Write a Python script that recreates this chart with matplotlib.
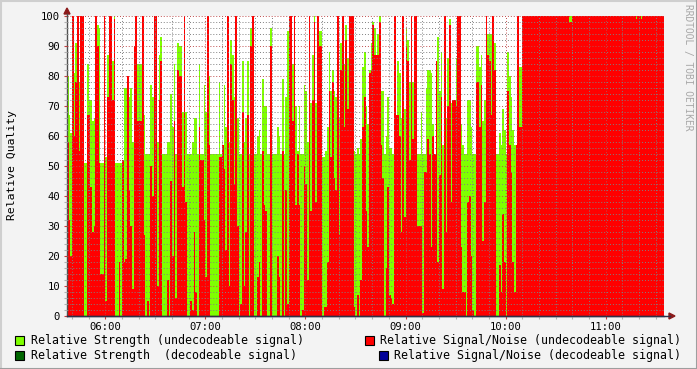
import numpy as np
import matplotlib
matplotlib.use("Agg")
import matplotlib.pyplot as plt
from matplotlib.patches import Polygon, Rectangle
from matplotlib.lines import Line2D

# 1-minute samples starting at 05:37, values in percent
start_min = 5 * 60 + 37

strength_05 = [80, 67, 61, 61, 81, 91, 78, 78, 55, 51, 51, 51, 84, 72, 72, 65, 66, 66, 97, 96, 51, 51, 51]
snr_05 = [58, 32, 20, 100, 60, 78, 100, 55, 100, 100, 0, 0, 67, 67, 43, 28, 30, 100, 90, 51, 14, 14, 100]

strength_06 = [53, 87, 87, 86, 85, 100, 51, 51, 51, 51,
               51, 76, 76, 68, 73, 76, 58, 90, 82, 84,
               84, 84, 65, 67, 54, 54, 54, 77, 73, 58,
               58, 58, 87, 93, 54, 54, 54, 58, 58, 74,
               63, 84, 54, 91, 90, 90, 68, 68, 68, 54,
               54, 54, 58, 66, 66, 54, 84, 54, 54, 77]
snr_06 = [5, 73, 100, 100, 72, 99, 0, 0, 18, 0,
          52, 18, 19, 80, 42, 30, 9, 90, 100, 65,
          65, 65, 100, 27, 0, 5, 0, 50, 40, 100,
          100, 10, 72, 85, 0, 0, 0, 12, 0, 45,
          20, 65, 6, 82, 80, 80, 43, 100, 38, 0,
          0, 5, 2, 28, 8, 0, 63, 52, 52, 32]

strength_07 = [68, 60, 80, 54, 54, 54, 54, 54, 78, 54,
               54, 77, 63, 58, 58, 92, 87, 73, 73, 66,
               54, 54, 85, 58, 66, 85, 54, 96, 78, 54,
               54, 60, 62, 54, 79, 70, 70, 54, 54, 96,
               54, 54, 54, 63, 60, 54, 79, 54, 73, 95,
               54, 78, 84, 85, 70, 55, 70, 54, 54, 77]
snr_07 = [13, 100, 57, 0, 0, 0, 0, 0, 53, 53,
          57, 49, 22, 100, 10, 84, 72, 44, 100, 30,
          0, 4, 68, 10, 28, 67, 0, 90, 100, 0,
          0, 13, 18, 0, 55, 37, 35, 0, 0, 90,
          0, 0, 0, 20, 13, 0, 55, 0, 42, 4,
          100, 100, 65, 100, 37, 54, 37, 0, 2, 50]

strength_08 = [75, 58, 58, 71, 87, 100, 71, 71, 95, 95,
               53, 53, 55, 63, 88, 75, 82, 75, 73, 73,
               66, 91, 91, 84, 97, 86, 86, 55, 55, 55,
               54, 56, 54, 59, 83, 88, 70, 64, 82, 91,
               98, 96, 87, 94, 100, 75, 75, 54, 60, 73,
               56, 56, 54, 54, 54, 85, 81, 66, 69, 69]
snr_08 = [44, 12, 100, 35, 72, 98, 38, 100, 90, 90,
          0, 3, 3, 18, 75, 53, 78, 46, 42, 100,
          27, 82, 100, 63, 92, 69, 100, 100, 100, 3,
          0, 7, 0, 12, 63, 73, 35, 23, 81, 82,
          97, 87, 87, 87, 98, 57, 46, 0, 16, 43,
          7, 6, 4, 100, 67, 67, 60, 28, 100, 33]

strength_09 = [96, 92, 78, 78, 78, 78, 78, 54, 54, 68,
               54, 54, 76, 82, 82, 81, 64, 54, 85, 93,
               75, 88, 57, 57, 66, 86, 99, 71, 71, 71,
               86, 97, 97, 64, 57, 54, 54, 72, 72, 63,
               54, 54, 90, 90, 83, 87, 65, 72, 72, 94,
               94, 94, 94, 91, 54, 54, 61, 57, 69, 62]
snr_09 = [90, 85, 52, 100, 59, 100, 100, 30, 30, 30,
          1, 48, 48, 59, 54, 23, 60, 54, 85, 18,
          47, 73, 9, 100, 28, 70, 97, 38, 72, 72,
          70, 100, 100, 23, 8, 8, 0, 38, 40, 20,
          2, 0, 78, 78, 63, 77, 25, 38, 100, 87,
          85, 67, 100, 82, 0, 0, 17, 8, 34, 18]

strength_10 = [54, 88, 80, 73, 62, 57, 56, 83, 83, 83,
               54, 54, 54, 54, 54, 54, 54, 54, 54, 54,
               54, 54, 54, 54, 54, 54, 54, 54, 54, 54,
               54, 54, 54, 54, 54, 54, 54, 54, 100, 100,
               54, 54, 54, 54, 54, 54, 54, 54, 54, 54,
               54, 54, 54, 54, 54, 54, 54, 54, 54, 54]
snr_10 = [0, 75, 57, 48, 18, 8, 57, 100, 63, 63,
          100, 100, 100, 100, 100, 100, 100, 100, 100, 100,
          100, 100, 100, 100, 100, 100, 100, 100, 100, 100,
          100, 100, 100, 100, 100, 100, 100, 100, 98, 98,
          100, 100, 100, 100, 100, 100, 100, 100, 100, 100,
          100, 100, 100, 100, 100, 100, 100, 100, 100, 100]

strength_11 = [54, 54, 54, 54, 54, 54, 54, 54, 54, 54,
               54, 54, 54, 54, 54, 54, 54, 54, 100, 54,
               54, 100, 54, 54, 54, 54, 54, 54, 54, 54,
               54, 54, 54, 54, 54]
snr_11 = [100, 100, 100, 100, 100, 100, 100, 100, 100, 100,
          100, 100, 100, 100, 100, 100, 100, 100, 99, 100,
          100, 99, 100, 100, 100, 100, 100, 100, 100, 100,
          100, 100, 100, 100, 100]

hour_labels = ["06:00", "07:00", "08:00", "09:00", "10:00", "11:00"]

legend_items = [
    ("Relative Strength (undecodeable signal)", "#7FFF00"),
    ("Relative Strength  (decodeable signal)", "#006600"),
    ("Relative Signal/Noise (undecodeable signal)", "#FF0000"),
    ("Relative Signal/Noise (decodeable signal)", "#000099"),
]

strength = np.array(strength_05 + strength_06 + strength_07 + strength_08 +
                    strength_09 + strength_10 + strength_11, dtype=float)
snr = np.array(snr_05 + snr_06 + snr_07 + snr_08 + snr_09 + snr_10 + snr_11, dtype=float)
edges = start_min + np.arange(len(strength) + 1)

W, H = 697, 369
MONO = "DejaVu Sans Mono"


def fp(x, y):
    # pixel position -> figure fraction
    return (x / W, 1 - y / H)


fig = plt.figure(figsize=(W / 100, H / 100), dpi=100)
fig.patch.set_facecolor("#F3F3F3")

ax = fig.add_axes([67 / W, (H - 316) / H, 597 / W, 300 / H])
ax.set_facecolor("white")

ax.stairs(strength, edges, baseline=0, fill=True, color="#7FFF00", lw=0, zorder=1)
ax.stairs(snr, edges, baseline=0, fill=True, color="#FF0000", lw=0, zorder=1.1)

ax.set_xlim(edges[0], edges[-1])
ax.set_ylim(0, 100)

ax.set_xticks([360 + 60 * k for k in range(len(hour_labels))])
ax.set_xticklabels(hour_labels)
ax.set_xticks(np.arange(340, edges[-1], 10), minor=True)
ax.set_yticks(np.arange(0, 101, 10))
ax.set_yticks(np.arange(0, 101, 2), minor=True)

ax.set_axisbelow(False)
ax.grid(which="minor", color=(0.5, 0.5, 0.5, 0.13), linestyle=(0, (1, 2)), linewidth=0.7)
ax.grid(which="major", color=(0.75, 0.3, 0.3, 0.25), linestyle=(0, (1, 2)), linewidth=0.7)

for lab in ax.get_xticklabels() + ax.get_yticklabels():
    lab.set_fontfamily(MONO)
    lab.set_fontsize(7.6)
ax.tick_params(which="both", direction="out", length=2, width=0.8)
ax.tick_params(axis="x", which="major", colors="#C04040", labelcolor="black", pad=2.5)
ax.tick_params(axis="x", which="minor", colors="#B0B0B0")
ax.tick_params(axis="y", which="major", colors="#C04040", labelcolor="black", pad=3)
ax.tick_params(axis="y", which="minor", colors="#B0B0B0")

for side in ("top", "right"):
    ax.spines[side].set_visible(False)
ax.spines["left"].set_color("#505050")
ax.spines["bottom"].set_color("#303048")
ax.spines["left"].set_linewidth(1)
ax.spines["bottom"].set_linewidth(1)

# axis extensions and arrows
fig.add_artist(Line2D([fp(67, 316)[0], fp(670, 316)[0]], [fp(67, 316)[1]] * 2,
                      color="#303048", lw=1, transform=fig.transFigure))
fig.add_artist(Line2D([fp(67, 14)[0]] * 2, [fp(67, 14)[1], fp(67, 16)[1]],
                      color="#505050", lw=1, transform=fig.transFigure))
fig.add_artist(Polygon([fp(669, 313), fp(669, 319), fp(675, 316)], closed=True,
                       color="#8B1A1A", transform=fig.transFigure))
fig.add_artist(Polygon([fp(64, 14), fp(70, 14), fp(67, 8)], closed=True,
                       color="#8B1A1A", transform=fig.transFigure))

# labels
fig.text(*fp(12, 165), "Relative Quality", rotation=90, ha="center", va="center",
         fontfamily=MONO, fontsize=8.2)
fig.text(*fp(688, 67), "RRDTOOL / TOBI OETIKER", rotation=270, ha="center", va="center",
         fontfamily=MONO, fontsize=6.9, color="#A8A8A8")

# legend
legend_pos = [(15, 336, 31), (15, 351, 31), (365, 336, 380), (379, 351, 394)]
for (text, color), (bx, by, tx) in zip(legend_items, legend_pos):
    x0, y0 = fp(bx, by + 9)
    fig.add_artist(Rectangle((x0, y0), 9 / W, 9 / H, facecolor=color, edgecolor="black",
                             lw=0.8, transform=fig.transFigure))
    fig.text(*fp(tx, by + 4.5), text, ha="left", va="center", fontfamily=MONO, fontsize=8.35)

# frame shading
fig.add_artist(Line2D([0, 1], [fp(0, 0.5)[1]] * 2, color="#CFCFCF", lw=1.5, transform=fig.transFigure))
fig.add_artist(Line2D([fp(0.5, 0)[0]] * 2, [0, 1], color="#CFCFCF", lw=1.5, transform=fig.transFigure))
fig.add_artist(Line2D([0, 1], [fp(0, H - 0.5)[1]] * 2, color="#9E9E9E", lw=1.5, transform=fig.transFigure))
fig.add_artist(Line2D([fp(W - 0.5, 0)[0]] * 2, [0, 1], color="#9E9E9E", lw=1.5, transform=fig.transFigure))

fig.savefig("out.png", dpi=100, facecolor=fig.get_facecolor())
